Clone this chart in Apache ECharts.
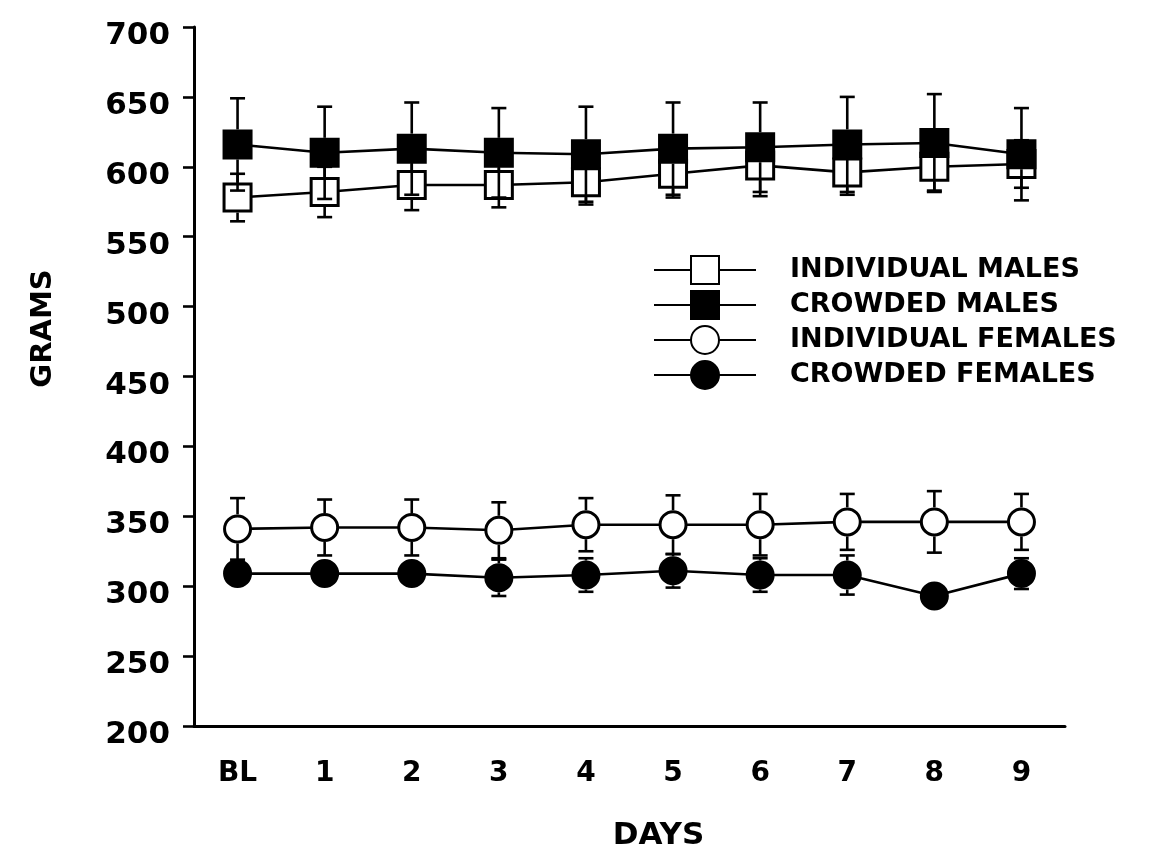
<!DOCTYPE html>
<html>
<head>
<meta charset="utf-8">
<script src="https://cdn.jsdelivr.net/npm/echarts@6/dist/echarts.min.js"></script>
<style>
html,body{margin:0;padding:0;background:#fff;}
#chart{width:1159px;height:856px;}
</style>
</head>
<body>
<div id="chart"></div>
<script>
// ---- data ----
const days = ['BL','1','2','3','4','5','6','7','8','9'];
const yTicks = [200,250,300,350,400,450,500,550,600,650,700];

const indMalesMean   = [578, 582, 587, 587, 589, 595, 601, 596, 600, 602];
const indMalesSD     = [17, 18, 18, 16, 16, 17, 22, 16, 17, 17];
const crowdMalesMean = [616, 610, 613, 610, 609, 613, 614, 616, 617, 609];
const crowdMalesSD   = [33, 33, 33, 32, 34, 33, 32, 34, 35, 33];
const indFemMean     = [341, 342, 342, 340, 344, 344, 344, 346, 346, 346];
const indFemSD       = [22, 20, 20, 20, 19, 21, 22, 20, 22, 20];
const crowdFemMean   = [309, 309, 309, 306, 308, 311, 308, 308, 293, 309];
const crowdFemSD     = [10, 10, 10, 13, 12, 12, 12, 14, 7, 11];

const seriesNames = ['INDIVIDUAL MALES','CROWDED MALES','INDIVIDUAL FEMALES','CROWDED FEMALES'];

// ---- chart ----
const FONT = 'DejaVu Sans';
const chart = echarts.init(document.getElementById('chart'), null, {renderer:'canvas'});

const SQ = 27, CI = 26, BW = 3;
function errData(mean, sd){ return mean.map((m,i)=>[i, m, sd[i]]); }
function makeRender(half){
  return function(params, api){
    const x = api.value(0), m = api.value(1), s = api.value(2);
    const c = api.coord([x, m]);
    const hi = api.coord([x, m + s]);
    const lo = api.coord([x, m - s]);
    const cw = 7.5;
    const st = {stroke:'#000', lineWidth:2.6};
    const kids = [];
    [[hi,-1],[lo,1]].forEach(([p,dir])=>{
      const edge = c[1] + dir*half;
      if ((p[1]-edge)*dir > 0) {
        kids.push({type:'line', shape:{x1:c[0], y1:edge, x2:c[0], y2:p[1]}, style:st});
        kids.push({type:'line', shape:{x1:c[0]-cw, y1:p[1], x2:c[0]+cw, y2:p[1]}, style:st});
      }
    });
    return {type:'group', children:kids};
  };
}

function lineSeries(name, data, symbol, filled, size){
  return {
    name, type:'line', data, symbol, symbolSize:size,
    lineStyle:{color:'#000', width:2.6},
    itemStyle:{color: filled ? '#000' : '#fff', borderColor:'#000', borderWidth:BW},
    z:3
  };
}
function errSeries(mean, sd, half){
  return {type:'custom', renderItem:makeRender(half), data:errData(mean, sd), z:4, silent:true};
}

chart.setOption({
  animation:false,
  backgroundColor:'#fff',
  grid:{left:194, right:94, top:27, bottom:127, containLabel:false},
  legend:{
    orient:'vertical', left:653, top:255, padding:0,
    itemWidth:102, itemHeight:35, itemGap:5,
    textStyle:{fontFamily:FONT, fontWeight:'bold', fontSize:27, color:'#000', padding:[0,0,0,29]},
    data:seriesNames
  },
  xAxis:{
    type:'category', data:days, boundaryGap:true,
    axisLine:{lineStyle:{color:'#000', width:3}},
    axisTick:{alignWithLabel:true, length:12, lineStyle:{color:'#000', width:2.6}},
    axisLabel:{fontFamily:FONT, fontWeight:'bold', fontSize:28, color:'#000', margin:34},
    name:'DAYS', nameLocation:'middle', nameGap:94,
    nameTextStyle:{fontFamily:FONT, fontWeight:'bold', fontSize:31, color:'#000', padding:[0,0,0,58]}
  },
  yAxis:{
    type:'value', min:200, max:700, interval:50,
    splitLine:{show:false},
    axisLine:{show:true, lineStyle:{color:'#000', width:3}},
    axisTick:{show:true, length:11, lineStyle:{color:'#000', width:2.6}},
    axisLabel:{fontFamily:FONT, fontWeight:'bold', fontSize:31, color:'#000', margin:24,
      verticalAlign:'top', lineHeight:18,
      formatter:(v)=> yTicks.includes(v) ? String(v) : ''},
    name:'GRAMS', nameLocation:'middle', nameGap:136, nameRotate:90,
    nameTextStyle:{fontFamily:FONT, fontWeight:'bold', fontSize:29, color:'#000', padding:[0,0,0,96]}
  },
  series:[
    lineSeries(seriesNames[0], indMalesMean, 'rect', false, SQ),
    lineSeries(seriesNames[1], crowdMalesMean, 'rect', true, SQ),
    lineSeries(seriesNames[2], indFemMean, 'circle', false, CI),
    lineSeries(seriesNames[3], crowdFemMean, 'circle', true, CI),
    errSeries(indMalesMean, indMalesSD, (SQ+BW)/2),
    errSeries(crowdMalesMean, crowdMalesSD, (SQ+BW)/2),
    errSeries(indFemMean, indFemSD, (CI+BW)/2),
    errSeries(crowdFemMean, crowdFemSD, (CI+BW)/2)
  ]
});
</script>
</body>
</html>
